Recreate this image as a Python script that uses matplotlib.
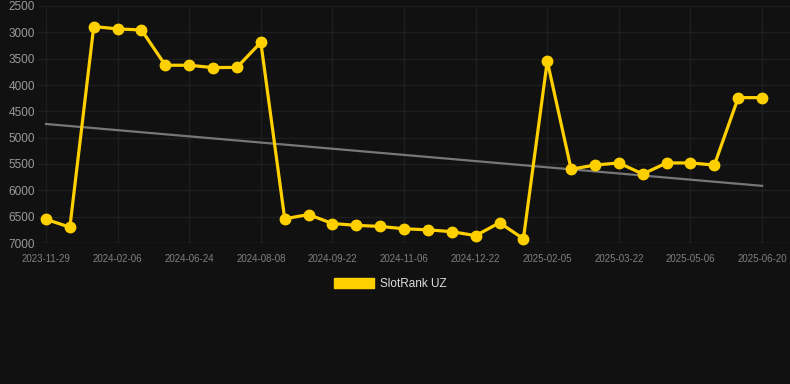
import matplotlib
matplotlib.use("Agg")
import matplotlib.pyplot as plt
from matplotlib.patches import Patch
import numpy as np

# Data (rank, lower is better -> inverted axis)
dates = ['2023-11-29', '', '', '2024-02-06', '', '', '2024-06-24', '', '',
         '2024-08-08', '', '', '2024-09-22', '', '', '2024-11-06', '', '',
         '2024-12-22', '', '', '2025-02-05', '', '', '2025-03-22', '', '',
         '2025-05-06', '', '', '2025-06-20']
rank = [6550, 6700, 2890, 2935, 2955, 3625, 3625, 3670, 3665, 3190,
        6540, 6460, 6630, 6665, 6685, 6730, 6750, 6785, 6860, 6615,
        6920, 3545, 5600, 5520, 5480, 5690, 5480, 5480, 5520, 4240,
        4240]
trend = [4740, 5915]  # trend line value at first and last date
series_name = 'SlotRank UZ'
yticks = [2500, 3000, 3500, 4000, 4500, 5000, 5500, 6000, 6500, 7000]

bg = '#111111'
yellow = '#FFD000'
grid = '#1e1e1e'

plt.rcParams['font.family'] = ['Liberation Sans', 'DejaVu Sans']

fig = plt.figure(figsize=(7.9, 3.84), dpi=100, facecolor=bg)
ax = fig.add_axes([38 / 790, 1 - 243 / 384, 1 - 38 / 790, (243 - 6) / 384])
ax.set_facecolor(bg)

x = np.arange(len(rank))

ax.plot([x[0], x[-1]], trend, color='#777777', lw=1.6, zorder=2)

ax.plot(x, rank, color=yellow, lw=2.3, marker='o', markersize=7.5,
        solid_joinstyle='miter', zorder=3, clip_on=False)

ax.set_ylim(7000, 2500)
ax.set_xlim(-8 / 23.87, (790 - 46) / 23.87)
ax.set_yticks(yticks)
ax.set_yticklabels([str(v) for v in yticks])
tick_idx = [i for i, d in enumerate(dates) if d]
ax.set_xticks(tick_idx)
ax.set_xticklabels([dates[i] for i in tick_idx])

ax.grid(True, color=grid, lw=1)
ax.axhline(7000, color='#262626', lw=1, zorder=1)
ax.set_axisbelow(True)
for s in ax.spines.values():
    s.set_visible(False)
ax.tick_params(axis='y', length=0, pad=2, labelsize=8.5, labelcolor='#9a9a9a')
ax.tick_params(axis='x', length=0, pad=8, labelsize=7, labelcolor='#808080')

handle = Patch(facecolor=yellow, edgecolor=yellow)
leg = fig.legend([handle], [series_name], loc='center',
                 bbox_to_anchor=(0.494, 1 - 284 / 384), frameon=False,
                 fontsize=8.5, handlelength=3.4, handleheight=0.85,
                 handletextpad=0.5)
for t in leg.get_texts():
    t.set_color('#dddddd')

fig.savefig('out.png', dpi=100, facecolor=bg)
